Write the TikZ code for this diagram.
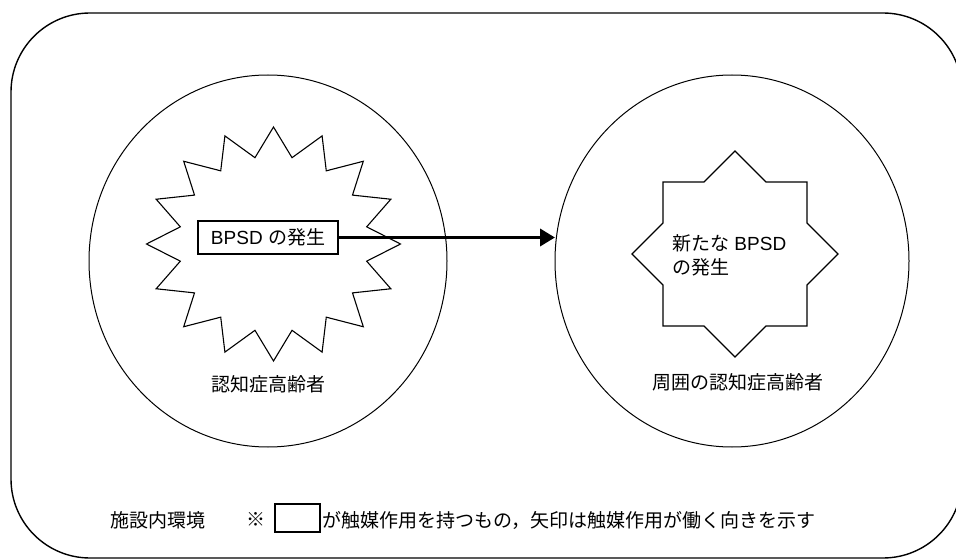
\documentclass[tikz,border=0pt]{standalone}
\usepackage{fontspec}
\setmainfont{Noto Sans CJK JP}
\newfontfamily\latfont{Liberation Sans}
\usetikzlibrary{shapes.geometric,arrows.meta}
\tikzset{
  outerframe/.style={draw=black,line width=1.4pt,rounded corners=79pt},
  person/.style={ellipse,draw=black,line width=1pt,inner sep=0pt,outer sep=0pt},
  starline/.style={draw=black,line width=1.1pt,line join=miter},
  lbl/.style={font=\fontsize{19pt}{24pt}\selectfont,inner sep=0pt},
  catbox/.style={draw=black,line width=1.1pt,inner sep=0pt},
  effect/.style={line width=3.6pt,-{Triangle[length=15pt,width=17pt]}}
}
\begin{document}
\begin{tikzpicture}[x=1pt,y=-1pt]
\path[use as bounding box,fill=white] (0,0) rectangle (956,559);
% environment frame
\draw[outerframe] (11,13) rectangle (962,558);
% persons
\node[person,minimum width=358pt,minimum height=372pt] (lc) at (268,261) {};
\node[person,minimum width=354pt,minimum height=372pt] (rc) at (732,261) {};
% left 16-point burst
\begin{scope}[shift={(273.5,244)}]
\draw[starline] (0:127 and 117)
  \foreach \i in {0,...,15}{ -- ({\i*22.5+11.25}:95 and 88) -- ({\i*22.5+22.5}:127 and 117) } -- cycle;
\end{scope}
% right 8-point star
\begin{scope}[shift={(735,254)}]
\draw[starline] (0,-103) -- (31,-72) -- (72,-72) -- (72,-31) -- (103,0) -- (72,31) -- (72,72)
  -- (31,72) -- (0,103) -- (-31,72) -- (-72,72) -- (-72,31) -- (-103,0) -- (-72,-31)
  -- (-72,-72) -- (-31,-72) -- cycle;
\end{scope}
% texts
\node[lbl,catbox,minimum width=140pt,minimum height=33pt] (bp) at (268,237.5) {{\latfont BPSD }の発生};
\node[lbl,align=left,anchor=west] (nb) at (672,255) {新たな{\latfont\ BPSD}\\の発生};
\node[lbl] (ll) at (268.5,384) {認知症高齢者};
\node[lbl] (rl) at (737.5,382) {周囲の認知症高齢者};
% arrow
\draw[effect] (bp.east) -- (rc.west |- bp.east);
% legend
\node[lbl,anchor=west] (env) at (110,520) {施設内環境};
\node[lbl] (note) at (255.5,519) {※};
\node[catbox,minimum width=45pt,minimum height=28pt] (lgbox) at (297.5,518) {};
\node[lbl,anchor=west] (lgtxt) at (322,520) {が触媒作用を持つもの，矢印は触媒作用が働く向きを示す};
\end{tikzpicture}
\end{document}
